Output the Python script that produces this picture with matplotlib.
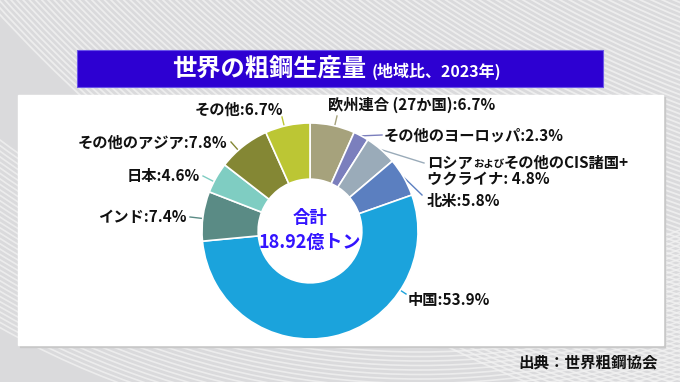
import numpy as np
import matplotlib.pyplot as plt
from matplotlib.patches import Rectangle, Circle

plt.rcParams['font.family'] = ['Noto Sans CJK JP', 'DejaVu Sans']

# data, clockwise from 12 o'clock
regions = ['欧州連合 (27か国)', 'その他のヨーロッパ', 'ロシアおよびその他のCIS諸国+ウクライナ',
           '北米', '中国', 'インド', '日本', 'その他のアジア', 'その他']
shares = [6.7, 2.3, 4.8, 5.8, 53.9, 7.4, 4.6, 7.8, 6.7]
colors = ['#a6a27c', '#7b7fbd', '#9aabb9', '#5b7fc0', '#1ba3dc',
          '#5a8b85', '#7fcdc2', '#848734', '#bcc634']
total_text = '18.92億トン'

# label anchor (end of leader line) and text position, in pixels
anchors = [(337, 116), (382, 135), (424, 163), (422, 195), (406, 294),
           (190, 217), (203, 176), (231, 142), (282, 117)]
text_pos = [(328, 105, 'left'), (384, 136, 'left'), (427, 163, 'left'),
            (427, 201, 'left'), (408, 300, 'left'), (187, 217, 'right'),
            (200, 176, 'right'), (227, 143, 'right'), (283, 110, 'right')]

W, H = 680, 382
fig = plt.figure(figsize=(W / 100, H / 100), dpi=100)
bg = fig.add_axes([0, 0, 1, 1])
bg.set_xlim(0, W)
bg.set_ylim(H, 0)
bg.axis('off')

# striped grey background
bg.add_patch(Rectangle((0, 0), W, H, color='#dadadc', zorder=0))
for r in np.arange(700, 1500, 4.5):
    bg.add_patch(Circle((1100, -1000), r, fill=False, lw=1.3, ec='#f2f2f2', alpha=0.8, zorder=0.5))
for r in np.arange(700, 860, 4.5):
    bg.add_patch(Circle((420, -420), r, fill=False, lw=1.2, ec='#f4f4f4', alpha=0.7, zorder=0.6))

# white panel
bg.add_patch(Rectangle((20, 97), 645, 250, color='#c8c8c8', zorder=1))
bg.add_patch(Rectangle((18, 95), 645, 250, color='white', zorder=1.1))

# title bar
bg.add_patch(Rectangle((77, 50), 526, 37, color='#2d00d2', ec='#6a55e8', lw=0.8, zorder=2))
t1 = bg.text(172, 70, '世界の粗鋼生産量', color='white', fontsize=17.5, fontweight='bold',
             va='center', ha='left', zorder=3)
bg.annotate('(地域比、2023年)', xy=(1, 0.5), xycoords=t1, xytext=(4, -1),
            textcoords='offset points', color='white', fontsize=11.5, fontweight='bold',
            va='center', ha='left', zorder=3)

# source
bg.text(658, 362, '出典：世界粗鋼協会', fontsize=11.2, fontweight='bold', color='#111111',
        ha='right', va='center', zorder=3)

# donut
cx, cy, rad = 310, 231, 108
ax = fig.add_axes([(cx - rad) / W, (H - cy - rad) / H, 2 * rad / W, 2 * rad / H])
wedges, _ = ax.pie(shares, colors=colors, startangle=90, counterclock=False,
                   wedgeprops=dict(width=0.52, edgecolor='white', linewidth=1.2))
ax.set_xlim(-1, 1)
ax.set_ylim(-1, 1)
ax.axis('off')

ax.text(0, 0.12, '合計', color='#3314ff', fontsize=12.5, fontweight='bold', ha='center', va='center')
ax.text(0, -0.11, total_text, color='#3314ff', fontsize=13, fontweight='bold', ha='center', va='center')

# leader lines: from wedge edge toward label anchor
to_bg = ax.transData + bg.transData.inverted()
for w, (axp, ayp), c in zip(wedges, anchors, colors):
    dx, dy = axp - cx, -(ayp - cy)
    ang = np.degrees(np.arctan2(dy, dx))
    t_lo, t_hi = w.theta1, w.theta2
    a = (ang - t_lo) % 360 + t_lo
    if a > t_hi:
        a = (t_lo + t_hi) / 2
    p = to_bg.transform((np.cos(np.radians(a)), np.sin(np.radians(a))))
    bg.plot([p[0], axp], [p[1], ayp], color=c, lw=1, zorder=3)

# labels
lab_kw = dict(fontsize=11, fontweight='bold', color='#111111', va='center', zorder=3)
for i, (name, v, (tx, ty, ha)) in enumerate(zip(regions, shares, text_pos)):
    if i == 2:
        a1 = bg.text(tx, ty, 'ロシア', ha='left', **lab_kw)
        a2 = bg.annotate('および', xy=(1, 0.12), xycoords=a1, fontsize=7.5, fontweight='bold',
                         color='#111111', va='bottom', ha='left', zorder=3)
        bg.annotate('その他のCIS諸国+', xy=(1, 0.5), xycoords=(a2, a1), ha='left', **lab_kw)
        bg.text(tx, ty + 16, 'ウクライナ: %.1f%%' % v, ha='left', **lab_kw)
    else:
        bg.text(tx, ty, '%s:%.1f%%' % (name, v), ha=ha, **lab_kw)

fig.savefig('out.png', dpi=100)
